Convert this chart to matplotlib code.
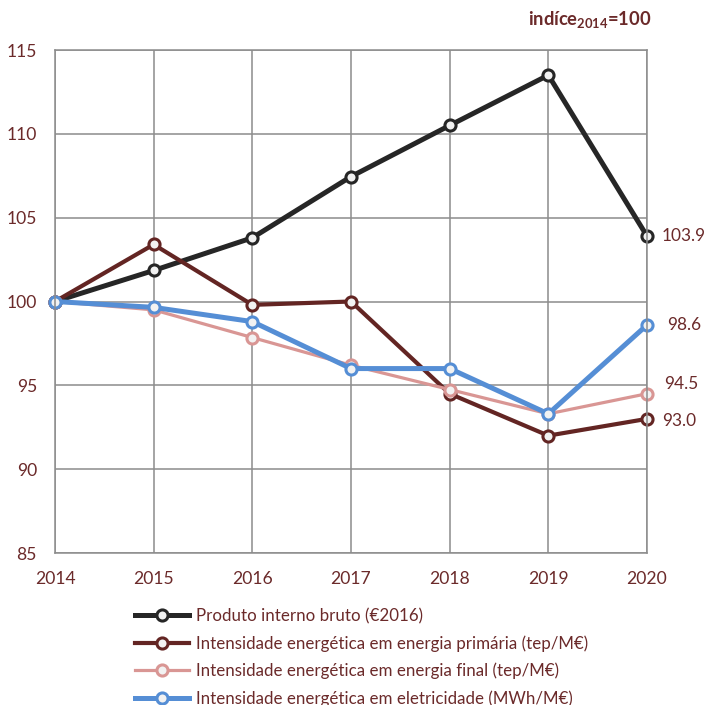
import numpy as np
import matplotlib
matplotlib.use("Agg")
import matplotlib.pyplot as plt

plt.rcParams['font.family'] = ['Lato', 'DejaVu Sans']
plt.rcParams['mathtext.fontset'] = 'custom'
plt.rcParams['mathtext.bf'] = 'Lato:bold'
plt.rcParams['mathtext.rm'] = 'Lato'
plt.rcParams['mathtext.default'] = 'bf'

years = [2014, 2015, 2016, 2017, 2018, 2019, 2020]
pib = [100, 101.85, 103.8, 107.45, 110.5, 113.5, 103.9]
primaria = [100, 103.4, 99.8, 100.0, 94.5, 92.0, 93.0]
final = [100, 99.5, 97.85, 96.2, 94.75, 93.3, 94.5]
eletricidade = [100, 99.65, 98.8, 96.0, 96.0, 93.3, 98.6]

labels = ["Produto interno bruto (€2016)",
          "Intensidade energética em energia primária (tep/M€)",
          "Intensidade energética em energia final (tep/M€)",
          "Intensidade energética em eletricidade (MWh/M€)"]
colors = ["#262626", "#632523", "#d99694", "#558ed5"]
widths = [3.6, 3.0, 2.3, 3.6]
txt = "#6b2a2a"
grid = "#8c8c8c"

fig = plt.figure(figsize=(7.06, 7.05), dpi=100)
ax = fig.add_axes([55/706, 1-553/705, 592/706, 503/705])

series = [pib, primaria, final, eletricidade]
for s, c, w, lab in zip(series, colors, widths, labels):
    ax.plot(years, s, color=c, lw=w, marker='o', ms=8, mfc='#f2f2f2',
            mec=c, mew=2.2, label=lab, clip_on=False)

# valores finais
for s, o in zip([pib, eletricidade, final, primaria],
                [(10.5, 0), (14.5, 0), (12.5, 7), (11, -1.5)]):
    ax.annotate(f"{s[-1]:.1f}", (years[-1], s[-1]), xytext=o, textcoords='offset points',
                ha='left', va='center', color=txt, fontsize=12.4, annotation_clip=False)

ax.set_xlim(2014, 2020)
ax.set_ylim(85, 115)
ax.set_xticks(years)
ax.set_yticks(np.arange(85, 116, 5))
ax.grid(True, color=grid, lw=1.1)
ax.set_axisbelow(True)
for sp in ax.spines.values():
    sp.set_color(grid)
    sp.set_linewidth(1.1)
ax.tick_params(length=0, colors=txt, labelsize=12.6)
ax.tick_params(axis='x', pad=13)
ax.tick_params(axis='y', pad=13)

fig.text(652/706, 1-20/705, 'indíce$_{2014}$=100', ha='right', va='center',
         fontsize=13.2, fontweight='bold', color=txt)

leg = fig.legend(loc='upper left', bbox_to_anchor=(135/706, 1-608/705), frameon=False,
                 fontsize=12.2, handlelength=3.2, handletextpad=0.4, labelspacing=0.65,
                 borderaxespad=0, borderpad=0)
for t in leg.get_texts():
    t.set_color(txt)

fig.savefig("out.png", dpi=100)
